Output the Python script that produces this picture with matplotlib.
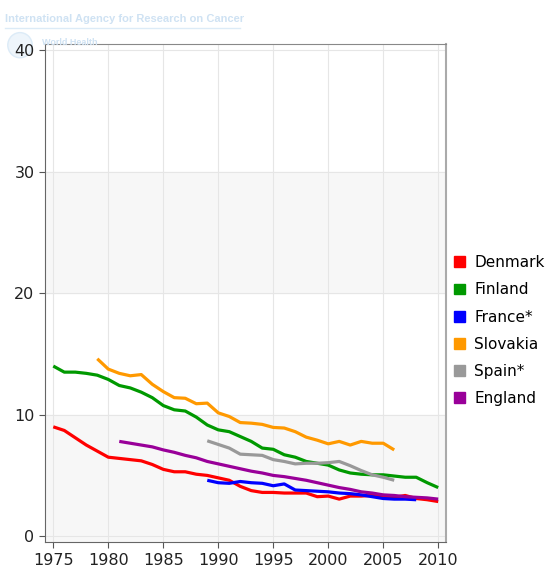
import matplotlib.pyplot as plt
from matplotlib.patches import Rectangle, Circle

countries = ["Denmark", "Finland", "France*", "Slovakia", "Spain*", "England"]
colors = ["#ff0000", "#009900", "#0000ff", "#ff9900", "#999999", "#990099"]

denmark_years = list(range(1975, 2011))
denmark = [9.0, 8.7, 8.1, 7.5, 7.0, 6.5, 6.4, 6.3, 6.2, 5.9, 5.5, 5.3, 5.3, 5.1,
           5.0, 4.8, 4.6, 4.1, 3.75, 3.6, 3.6, 3.55, 3.55, 3.55, 3.25, 3.3, 3.05,
           3.3, 3.3, 3.35, 3.25, 3.2, 3.35, 3.1, 3.0, 2.85]

finland_years = list(range(1975, 2011))
finland = [14.0, 13.5, 13.5, 13.4, 13.25, 12.9, 12.4, 12.2, 11.85, 11.4, 10.75,
           10.4, 10.3, 9.8, 9.15, 8.75, 8.6, 8.2, 7.8, 7.25, 7.15, 6.7, 6.5, 6.15,
           6.0, 5.85, 5.45, 5.2, 5.1, 5.05, 5.05, 4.95, 4.85, 4.85, 4.4, 4.0]

france_years = list(range(1989, 2009))
france = [4.6, 4.4, 4.35, 4.5, 4.4, 4.35, 4.15, 4.3, 3.8, 3.75, 3.7, 3.65, 3.55,
          3.5, 3.4, 3.25, 3.1, 3.05, 3.05, 3.0]

slovakia_years = list(range(1979, 2007))
slovakia = [14.6, 13.75, 13.4, 13.2, 13.3, 12.5, 11.9, 11.4, 11.35, 10.9, 10.95,
            10.15, 9.85, 9.35, 9.3, 9.2, 8.95, 8.9, 8.6, 8.15, 7.9, 7.6, 7.8, 7.5,
            7.8, 7.65, 7.65, 7.1]

spain_years = list(range(1989, 2007))
spain = [7.85, 7.55, 7.25, 6.75, 6.7, 6.65, 6.3, 6.15, 5.95, 6.0, 6.0, 6.05, 6.15,
         5.8, 5.4, 5.05, 4.85, 4.6]

england_years = list(range(1981, 2011))
england = [7.8, 7.65, 7.5, 7.35, 7.1, 6.9, 6.65, 6.45, 6.15, 5.95, 5.75, 5.55, 5.35,
           5.2, 5.0, 4.9, 4.75, 4.6, 4.4, 4.2, 4.0, 3.85, 3.65, 3.55, 3.4, 3.35,
           3.25, 3.2, 3.15, 3.05]

series = [(denmark_years, denmark), (finland_years, finland), (france_years, france),
          (slovakia_years, slovakia), (spain_years, spain), (england_years, england)]

x_ticks = [1975, 1980, 1985, 1990, 1995, 2000, 2005, 2010]
y_ticks = [0, 10, 20, 30, 40]

fig = plt.figure(figsize=(5.56, 5.72), dpi=100)
ax = fig.add_axes([0.081, 0.052, 0.721, 0.871])

# header watermark
fig.text(0.009, 0.967, "International Agency for Research on Cancer", color="#cfe2f3",
         fontsize=8.0, fontweight="bold", family="Liberation Sans", va="center")
fig.add_artist(plt.Line2D([0.009, 0.432], [0.951, 0.951], color="#dcebf7", lw=1))
fig.add_artist(Circle((0.036, 0.921), 0.022, transform=fig.transFigure,
                      facecolor="#eef5fb", edgecolor="#dcebf7", zorder=0))
fig.text(0.075, 0.926, "World Health", color="#cfe2f3", fontsize=6.5, fontweight="bold",
         family="Liberation Sans", va="center", zorder=0)

# alternating bands
for lo in [0, 20]:
    ax.axhspan(lo, lo + 10, color="#f7f7f7", zorder=0)
ax.axhspan(-0.5, 0, color="#f7f7f7", zorder=0)

for (yrs, vals), name, c in zip(series, countries, colors):
    ax.plot(yrs, vals, color=c, lw=2.3, label=name, solid_capstyle="butt", zorder=3)

ax.set_xlim(1974.25, 2010.7)
ax.set_ylim(-0.5, 40.5)
ax.set_xticks(x_ticks)
ax.set_yticks(y_ticks)
ax.grid(True, color="#e6e6e6", lw=0.8, zorder=1)
ax.set_axisbelow(True)
ax.tick_params(labelsize=11.5, length=4, color="#555555", labelcolor="#222222")
for side in ["left", "bottom"]:
    ax.spines[side].set_color("#666666")
ax.spines["top"].set_color("#888888")
ax.spines["right"].set_color("#aaaaaa")
ax.spines["right"].set_linewidth(1.5)

handles = [Rectangle((0, 0), 1, 1, color=c) for c in colors]
fig.legend(handles, countries, loc="upper left", bbox_to_anchor=(0.817, 0.554),
           frameon=False, fontsize=11, handlelength=0.72, handleheight=0.72,
           handletextpad=0.6, labelspacing=0.8, borderpad=0, borderaxespad=0)

fig.savefig("out.png", dpi=100)
